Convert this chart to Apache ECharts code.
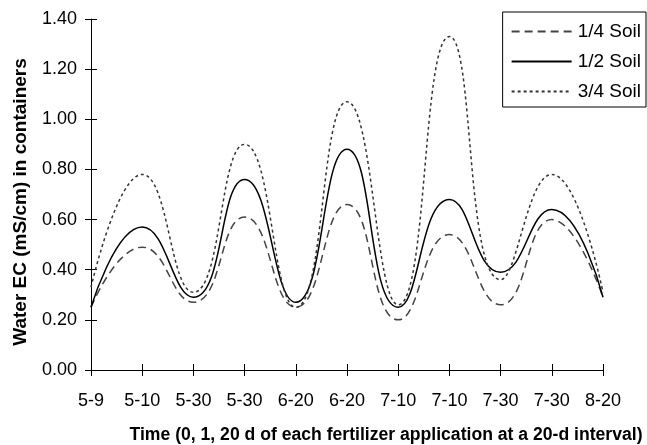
<!DOCTYPE html>
<html>
<head>
<meta charset="utf-8">
<script src="https://cdn.jsdelivr.net/npm/echarts@6/dist/echarts.min.js"></script>
<style>html,body{margin:0;padding:0;background:#fff;}#c{width:647px;height:445px;}</style>
</head>
<body>
<div id="c"></div>
<script>
var categories = ['5-9','5-10','5-30','5-30','6-20','6-20','7-10','7-10','7-30','7-30','8-20'];
var quarterSoil = [0.25,0.49,0.27,0.61,0.25,0.66,0.20,0.54,0.26,0.60,0.29];
var halfSoil = [0.25,0.57,0.29,0.76,0.27,0.88,0.25,0.68,0.39,0.64,0.29];
var threeQuarterSoil = [0.33,0.78,0.31,0.90,0.25,1.07,0.26,1.33,0.36,0.78,0.31];
var seriesNames = ['1/4 Soil','1/2 Soil','3/4 Soil'];
var xTitle = 'Time (0, 1, 20 d of each fertilizer application at a 20-d interval)';
var yTitle = 'Water EC (mS/cm) in containers';

var FONT = '"Liberation Sans", Arial, sans-serif';
var chart = echarts.init(document.getElementById('c'), null, {renderer:'canvas'});
var axisLineStyle = {color:'#000', width:1};
function mkSeries(name, data, color, type, width){
  return {name:name, type:'line', data:data, smooth:0.5, symbol:'none', showSymbol:false,
    xAxisIndex:0, yAxisIndex:0,
    lineStyle:{color:color, type:type, width:width}, itemStyle:{color:color}};
}
chart.setOption({
  animation:false,
  backgroundColor:'#fff',
  grid:{left:91, right:44, top:19, bottom:75, containLabel:false},
  legend:{
    orient:'vertical', right:1, top:12, itemWidth:60, itemHeight:14, itemGap:11,
    padding:[10,5,6,8],
    borderColor:'#000', borderWidth:1,
    itemStyle:{opacity:0},
    textStyle:{fontFamily:FONT, fontSize:19, color:'#000', padding:[0,0,0,1]},
    data:seriesNames
  },
  xAxis:[{
    type:'category', data:categories, boundaryGap:false,
    axisLine:{lineStyle:axisLineStyle},
    axisTick:{show:true, length:6, inside:false, lineStyle:axisLineStyle},
    axisLabel:{fontFamily:FONT, fontSize:18, color:'#000', margin:22, interval:0},
    splitLine:{show:false}
  },{
    type:'category', data:categories, boundaryGap:false, position:'bottom',
    axisLine:{show:false},
    axisTick:{show:true, length:6, inside:true, lineStyle:axisLineStyle},
    axisLabel:{show:false}, splitLine:{show:false}
  }],
  yAxis:[{
    type:'value', min:0, max:1.4, interval:0.2,
    axisLine:{show:true, lineStyle:axisLineStyle},
    axisTick:{show:true, length:6, lineStyle:axisLineStyle},
    axisLabel:{fontFamily:FONT, fontSize:18, color:'#000', margin:14,
      formatter:function(v){return v.toFixed(2);}},
    splitLine:{show:false}
  },{
    type:'value', min:0, max:1.4, interval:0.2, position:'left',
    axisLine:{show:false},
    axisTick:{show:true, length:6, inside:true, lineStyle:axisLineStyle},
    axisLabel:{show:false}, splitLine:{show:false}
  }],
  graphic:[{
    type:'text', x:386, y:435,
    style:{text:xTitle, font:'bold 17.6px '+FONT, fill:'#000', align:'center', verticalAlign:'middle'}
  },{
    type:'text', x:21, y:202, rotation:Math.PI/2,
    style:{text:yTitle, font:'bold 19px '+FONT, fill:'#000', align:'center', verticalAlign:'middle'}
  }],
  series:[
    mkSeries(seriesNames[0], quarterSoil, '#444', [8,5], 1.5),
    mkSeries(seriesNames[1], halfSoil, '#000', 'solid', 1.5),
    mkSeries(seriesNames[2], threeQuarterSoil, '#333', [3,3], 1.5)
  ]
});
</script>
</body>
</html>
